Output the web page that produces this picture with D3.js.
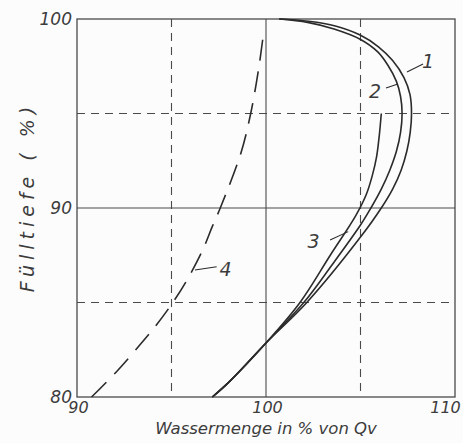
<!DOCTYPE html>
<html>
<head>
<meta charset="utf-8">
<script src="https://cdn.jsdelivr.net/npm/d3@7"></script>
<style>
  html, body { margin: 0; padding: 0; background: #fcfcfc; }
  svg { display: block; }
  text { font-family: "DejaVu Sans", sans-serif; font-style: oblique; fill: #3c3c3c; }
</style>
</head>
<body>
<svg id="chart" width="463" height="443"></svg>
<script>
// ---- data (Wassermenge in % von Qv, Fülltiefe in %) ----
const xTicks = [90, 100, 110];
const yTicks = [80, 90, 100];
const solidGridQ = [100];
const dashedGridQ = [95, 105];
const solidGridH = [90];
const dashedGridH = [85, 95];

const curve1 = [[97.16,80],[98.05,80.8],[100,82.86],[102.16,85],[105,88.46],[106.1,90],[106.7,91],[107.15,92],[107.45,93],[107.63,94],[107.7,95],[107.62,96],[107.3,96.9],[106.7,97.8],[105.95,98.53],[104.98,99.15],[103.67,99.63],[102.26,99.88],[100.7,100]];
const curve2 = [[97.16,80],[98.05,80.8],[100,82.86],[102.0,85],[103.5,87],[105,89.1],[105.55,90],[106.1,91],[106.55,92],[106.9,93],[107.12,94],[107.2,95],[107.12,95.9],[106.9,96.7],[106.45,97.55],[105.9,98.27],[104.98,98.93],[103.6,99.47],[102.2,99.82],[100.7,100]];
const curve3 = [[97.16,80],[98.05,80.8],[100,82.86],[101.8,85],[103.4,87.5],[104.75,89.6],[105.3,90.7],[105.62,91.7],[105.85,92.7],[106.0,93.9],[106.1,95]];
const curve4 = [[90.77,80],[92.09,81.34],[93.4,82.84],[94.2,83.81],[95.07,85],[95.77,86.1],[96.65,87.78],[97.15,89.0],[97.58,90],[98.67,92.9],[99.19,95],[99.6,97.3],[99.85,99.1]];

const labelNames = ["1", "2", "3", "4"];
const labelQ = [108.57, 105.77, 102.51, 97.86];
const labelH = [97.41, 95.82, 87.88, 86.40];
const leaderFrom = [[107.46,97.20],[106.35,96.35],[103.39,88.31],[96.24,86.72]];
const leaderTo = [[108.31,97.62],[106.98,96.56],[104.35,88.75],[97.39,86.89]];

// ---- drawing ----
const svg = d3.select("#chart");
const x = d3.scaleLinear().domain([90, 110]).range([77, 455]);
const y = d3.scaleLinear().domain([80, 100]).range([397, 19]);
const ink = "#2b2b2b", grid = "#4a4a4a";

// grid
svg.selectAll(".vsolid").data(solidGridQ).enter().append("line")
  .attr("x1", d => x(d)).attr("x2", d => x(d)).attr("y1", y(100)).attr("y2", y(80))
  .attr("stroke", grid).attr("stroke-width", 1.1);
svg.selectAll(".hsolid").data(solidGridH).enter().append("line")
  .attr("x1", x(90)).attr("x2", x(110)).attr("y1", d => y(d)).attr("y2", d => y(d))
  .attr("stroke", grid).attr("stroke-width", 1.1);
svg.selectAll(".vdash").data(dashedGridQ).enter().append("line")
  .attr("x1", d => x(d)).attr("x2", d => x(d)).attr("y1", y(100)).attr("y2", y(80))
  .attr("stroke", grid).attr("stroke-width", 1.1).attr("stroke-dasharray", "8,6");
svg.selectAll(".hdash").data(dashedGridH).enter().append("line")
  .attr("x1", x(90)).attr("x2", x(110)).attr("y1", d => y(d)).attr("y2", d => y(d))
  .attr("stroke", grid).attr("stroke-width", 1.1).attr("stroke-dasharray", "8,6");

// frame
svg.append("rect").attr("x", x(90)).attr("y", y(100))
  .attr("width", x(110) - x(90)).attr("height", y(80) - y(100))
  .attr("fill", "none").attr("stroke", grid).attr("stroke-width", 1.3);

// curves
const line = d3.line().x(d => x(d[0])).y(d => y(d[1])).curve(d3.curveCatmullRom.alpha(0.5));
[curve1, curve2, curve3].forEach(c => {
  svg.append("path").attr("d", line(c)).attr("fill", "none")
    .attr("stroke", ink).attr("stroke-width", 1.6);
});
svg.append("path").attr("d", line(curve4)).attr("fill", "none")
  .attr("stroke", ink).attr("stroke-width", 1.6).attr("stroke-dasharray", "21,11");

// labels & leaders
labelNames.forEach((n, i) => {
  svg.append("line")
    .attr("x1", x(leaderFrom[i][0])).attr("y1", y(leaderFrom[i][1]))
    .attr("x2", x(leaderTo[i][0])).attr("y2", y(leaderTo[i][1]))
    .attr("stroke", ink).attr("stroke-width", 1.1);
  svg.append("text").attr("x", x(labelQ[i])).attr("y", y(labelH[i]))
    .attr("text-anchor", "middle").attr("font-size", 19).text(n);
});

// axes (tick labels only)
const yAxis = svg.append("g").attr("transform", `translate(${x(90)},0)`)
  .call(d3.axisLeft(y).tickValues(yTicks).tickSize(0).tickPadding(5).tickFormat(d3.format("d")));
yAxis.select(".domain").remove();
yAxis.selectAll("text").attr("font-size", 17).style("font-family", "DejaVu Sans").style("font-style", "oblique").attr("fill", "#3c3c3c");

const xAxis = svg.append("g").attr("transform", `translate(0,${y(80)})`)
  .call(d3.axisBottom(x).tickValues(xTicks).tickSize(0).tickPadding(5).tickFormat(d3.format("d")));
xAxis.select(".domain").remove();
xAxis.selectAll("text").attr("font-size", 16).style("font-family", "DejaVu Sans").style("font-style", "oblique").attr("fill", "#3c3c3c")
  .attr("dx", d => d === 110 ? -10 : 1);

// titles
svg.append("text").attr("x", x(100)).attr("y", 434).attr("text-anchor", "middle")
  .attr("font-size", 16.5).text("Wassermenge  in % von Qv");
svg.append("text").attr("transform", `translate(34,${y(90) - 11}) rotate(-90)`)
  .attr("text-anchor", "middle").attr("font-size", 19).attr("letter-spacing", 5)
  .text("Fülltiefe ( %)");
</script>
</body>
</html>
